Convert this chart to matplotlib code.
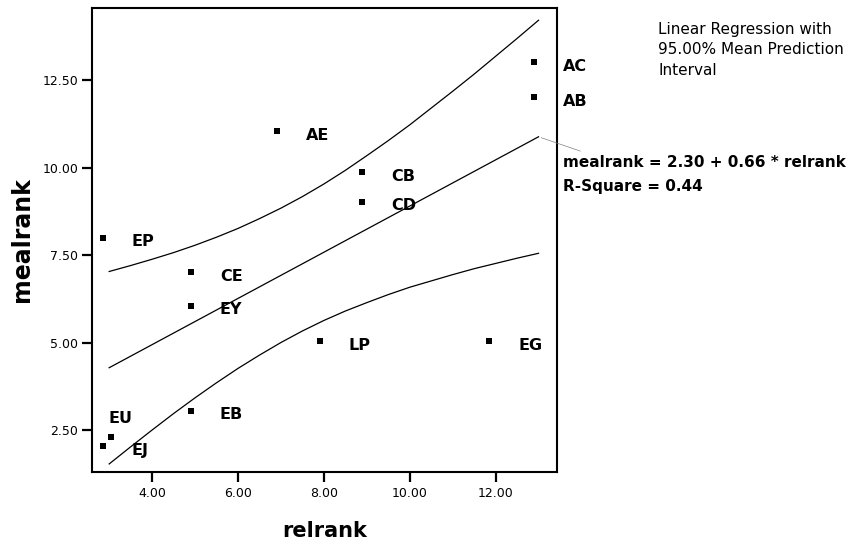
import numpy as np
import matplotlib
matplotlib.use('Agg')
import matplotlib.pyplot as plt

# -------------------------------
# Data
# -------------------------------
labels = ['EP', 'CE', 'EY', 'EB', 'EU', 'EJ', 'AE', 'CB', 'CD', 'AC', 'AB', 'LP', 'EG']
relrank = [2.85, 4.9, 4.9, 4.9, 3.05, 2.85, 6.9, 8.9, 8.9, 12.9, 12.9, 7.9, 11.85]
mealrank = [8.0, 7.02, 6.05, 3.05, 2.31, 2.04, 11.04, 9.87, 9.03, 13.02, 12.01, 5.04, 5.04]

# regression line as printed on the chart
intercept = 2.30
slope = 0.66

# 95% mean prediction interval, read at half-unit steps of relrank
band_x = [3.0, 3.5, 4.0, 4.5, 5.0, 5.5, 6.0, 6.5, 7.0, 7.5, 8.0,
          8.5, 9.0, 9.5, 10.0, 10.5, 11.0, 11.5, 12.0, 12.5, 13.0]
band_upper = [7.03, 7.20, 7.38, 7.57, 7.78, 8.01, 8.26, 8.54, 8.84, 9.17, 9.53,
              9.92, 10.34, 10.77, 11.22, 11.70, 12.18, 12.67, 13.18, 13.69, 14.21]
band_lower = [1.53, 2.02, 2.50, 2.97, 3.42, 3.85, 4.26, 4.64, 5.00, 5.33, 5.63,
              5.90, 6.14, 6.37, 6.58, 6.76, 6.94, 7.11, 7.26, 7.41, 7.55]

xticks = [4.0, 6.0, 8.0, 10.0, 12.0]
yticks = [2.5, 5.0, 7.5, 10.0, 12.5]

# -------------------------------
# Figure
# -------------------------------
W, H = 861, 546
fig = plt.figure(figsize=(W / 100, H / 100), dpi=100)
ax = fig.add_axes([92 / W, 1 - 472 / H, (557 - 92) / W, (472 - 8) / H])

bx = np.array(band_x)
fit = intercept + slope * bx
ax.plot(bx, band_upper, color='black', lw=0.9)
ax.plot(bx, fit, color='black', lw=0.9)
ax.plot(bx, band_lower, color='black', lw=0.9)

ax.scatter(relrank, mealrank, marker='s', s=18, color='black', zorder=3, linewidths=0)

# point labels, SPSS style (EU was moved above its point)
special = {'EU': (-2.2, 13.0)}
for lab, x, y in zip(labels, relrank, mealrank):
    off = special.get(lab, (21.0, -3.0))
    ax.annotate(lab, (x, y), xytext=off, textcoords='offset points',
                ha='left', va='center', fontsize=11.5, fontweight='bold')

ax.set_xlim(2.6, 13.43)
ax.set_ylim(1.3, 14.56)
ax.set_xticks(xticks)
ax.set_yticks(yticks)
ax.set_xticklabels([f'{v:.2f}' for v in xticks])
ax.set_yticklabels([f'{v:.2f}' for v in yticks])
ax.tick_params(direction='out', length=7, width=1.6, labelsize=9, pad=3)
ax.tick_params(axis='x', pad=4)
for sp in ax.spines.values():
    sp.set_linewidth(1.5)

ax.set_xlabel('relrank', fontsize=15, fontweight='bold')
ax.set_ylabel('mealrank', fontsize=17, fontweight='bold')
ax.xaxis.set_label_coords(0.5, -0.105)
ax.yaxis.set_label_coords(-0.125, 0.5)

# leader line from end of fit to equation
ax.annotate('', xy=(band_x[-1], fit[-1]), xytext=(583, H - 152),
            textcoords='figure pixels',
            arrowprops=dict(arrowstyle='-', color='gray', lw=0.5))

fig.text(658 / W, 1 - 22 / H, 'Linear Regression with\n95.00% Mean Prediction\nInterval',
         ha='left', va='top', fontsize=11, linespacing=1.45)
fig.text(563 / W, 1 - 155 / H,
         f'mealrank = {intercept:.2f} + {slope:.2f} * relrank\nR-Square = 0.44',
         ha='left', va='top', fontsize=11, fontweight='bold', linespacing=1.75)

fig.savefig('out.png', dpi=100)
